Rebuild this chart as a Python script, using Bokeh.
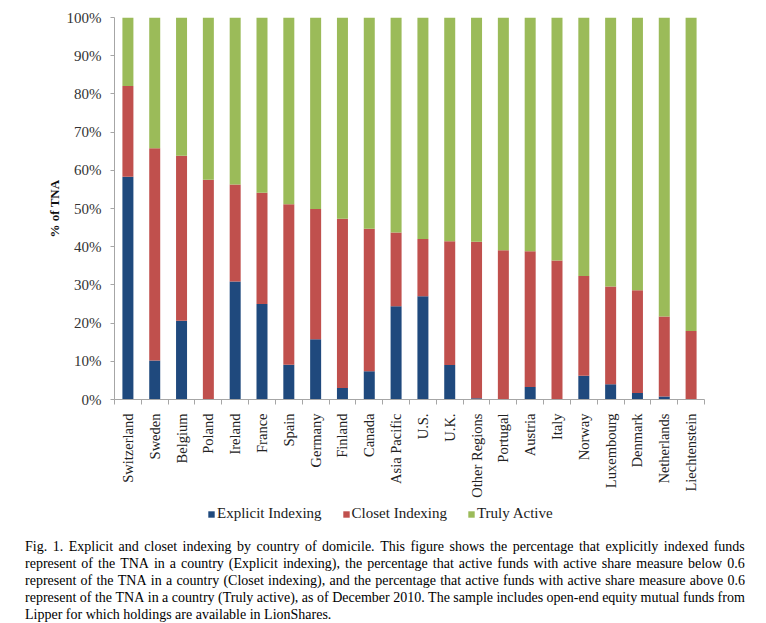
import math
from bokeh.plotting import figure
from bokeh.models import (ColumnDataSource, Range1d, LinearAxis, FixedTicker,
                          PrintfTickFormatter, Legend, LegendItem, Div)
from bokeh.layouts import column
from bokeh.embed import file_html
from bokeh.resources import INLINE

countries = ["Switzerland", "Sweden", "Belgium", "Poland", "Ireland", "France", "Spain",
             "Germany", "Finland", "Canada", "Asia Pacific", "U.S.", "U.K.", "Other Regions",
             "Portugal", "Austria", "Italy", "Norway", "Luxembourg", "Denmark", "Netherlands",
             "Liechtenstein"]
explicit = [58.3, 10.2, 20.6, 0.0, 30.9, 25.0, 9.1, 15.8, 3.0, 7.4, 24.4, 27.0, 9.0, 0.3,
            0.0, 3.3, 0.0, 6.2, 4.0, 1.7, 0.8, 0.0]
closet = [23.8, 55.6, 43.2, 57.5, 25.4, 29.1, 42.0, 34.1, 44.3, 37.3, 19.3, 15.0, 32.4, 41.0,
          39.1, 35.5, 36.4, 26.1, 25.6, 26.9, 20.9, 17.9]
active = [17.9, 34.2, 36.2, 42.5, 43.7, 45.9, 48.9, 50.1, 52.7, 55.3, 56.3, 58.0, 58.6, 58.7,
          60.9, 61.2, 63.6, 67.7, 70.4, 71.4, 78.3, 82.1]
series_names = ["Explicit Indexing", "Closet Indexing", "Truly Active"]
series_colors = ["#1F497D", "#C0504D", "#9BBB59"]
y_ticks = [0, 10, 20, 30, 40, 50, 60, 70, 80, 90, 100]

caption_lines = [
    "Fig. 1. Explicit and closet indexing by country of domicile. This figure shows the percentage that explicitly indexed funds",
    "represent of the TNA in a country (Explicit indexing), the percentage that active funds with active share measure below 0.6",
    "represent of the TNA in a country (Closet indexing), and the percentage that active funds with active share measure above 0.6",
    "represent of the TNA in a country (Truly active), as of December 2010. The sample includes open-end equity mutual funds from",
    "Lipper for which holdings are available in LionShares.",
]

FONT = "Liberation Serif"
n = len(countries)
xs = list(range(n))
source = ColumnDataSource(dict(x=xs, explicit=explicit, closet=closet, active=active))
stack_cols = ["explicit", "closet", "active"]

p = figure(width=760, height=504, output_backend="svg", toolbar_location=None,
           x_range=Range1d(-0.5, n - 0.5), y_range=Range1d(0, 100),
           x_axis_type=None, y_axis_type=None,
           min_border_left=114, min_border_right=56, min_border_top=17, min_border_bottom=105)
p.outline_line_color = None
p.background_fill_color = "white"
p.border_fill_color = "white"

renderers = p.vbar_stack(stack_cols, x="x", width=0.41,
                         color=series_colors, line_color=None, source=source)

# y axis
yaxis = LinearAxis(ticker=FixedTicker(ticks=y_ticks),
                   formatter=PrintfTickFormatter(format="%d%%"))
yaxis.axis_label = "% of TNA"
yaxis.axis_label_text_font = FONT
yaxis.axis_label_text_font_style = "bold"
yaxis.axis_label_text_font_size = "13px"
yaxis.axis_label_text_color = "#111111"
yaxis.axis_label_standoff = 2
yaxis.major_label_text_font = FONT
yaxis.major_label_text_font_size = "15px"
yaxis.major_label_text_color = "#333333"
yaxis.major_label_standoff = 9
yaxis.axis_line_color = "#A6A6A6"
yaxis.major_tick_line_color = "#A6A6A6"
yaxis.major_tick_out = 4
yaxis.major_tick_in = 0
yaxis.minor_tick_line_color = None
p.add_layout(yaxis, "left")

# x axis: labels at centers, tick marks at category boundaries
xaxis = LinearAxis(ticker=FixedTicker(ticks=xs, minor_ticks=[i - 0.5 for i in range(n + 1)]))
xaxis.major_label_overrides = {i: c for i, c in zip(xs, countries)}
xaxis.major_label_orientation = math.pi / 2
xaxis.major_label_text_font = FONT
xaxis.major_label_text_font_size = "14.5px"
xaxis.major_label_text_color = "#222222"
xaxis.major_label_standoff = 9
xaxis.major_tick_line_color = None
xaxis.major_tick_out = 0
xaxis.major_tick_in = 0
xaxis.minor_tick_line_color = "#A6A6A6"
xaxis.minor_tick_out = 5
xaxis.minor_tick_in = 0
xaxis.axis_line_color = "#A6A6A6"
p.add_layout(xaxis, "below")

p.ygrid.ticker = FixedTicker(ticks=y_ticks)
p.ygrid.grid_line_color = "#B3B3B3"
p.ygrid.grid_line_width = 1
p.xgrid.grid_line_color = None

# legend strip below the chart: same series as zero-width (invisible) bars, only for the key
pl = figure(width=760, height=26, output_backend="svg", toolbar_location=None,
            x_range=Range1d(-0.5, n - 0.5), y_range=Range1d(0, 100),
            x_axis_type=None, y_axis_type=None,
            min_border_left=114, min_border_right=56, min_border_top=0, min_border_bottom=0)
pl.outline_line_color = None
pl.xgrid.grid_line_color = None
pl.ygrid.grid_line_color = None
swatches = pl.vbar_stack(stack_cols, x="x", width=0, color=series_colors,
                         line_color=None, source=source)
legend = Legend(items=[LegendItem(label=nm, renderers=[r]) for nm, r in zip(series_names, swatches)],
                orientation="horizontal", location=(93, 8))
legend.label_text_font = FONT
legend.label_text_font_size = "15px"
legend.label_text_color = "#1A1A1A"
legend.glyph_width = 8
legend.glyph_height = 8
legend.label_standoff = 2
legend.label_height = 16
legend.spacing = 20
legend.padding = 0
legend.margin = 0
legend.border_line_color = None
legend.background_fill_color = None
pl.add_layout(legend, "center")

line_html = []
for i, line in enumerate(caption_lines):
    last = i == len(caption_lines) - 1
    if last:
        line_html.append(f'<div style="white-space:nowrap;">{line}</div>')
    else:
        words = "".join(f"<span>{w}</span>" for w in line.split(" "))
        line_html.append(
            f'<div style="display:flex;justify-content:space-between;white-space:nowrap;">{words}</div>')
caption = Div(text=(f'<div style="font-family:\'{FONT}\';font-size:14px;line-height:17px;'
                    f'color:#000;width:720px;margin-left:20px;margin-top:3px;">'
                    + "".join(line_html) + "</div>"),
              width=760, height=92)

layout = column(p, pl, caption)
open("out.html", "w").write(file_html(layout, INLINE))
